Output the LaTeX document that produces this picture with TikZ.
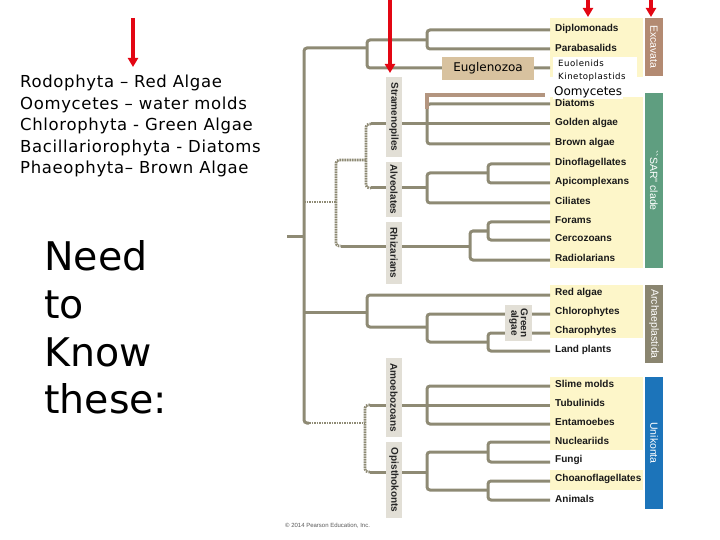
\documentclass[tikz,border=0pt]{standalone}
\usepackage{fontspec}
\setmainfont{DejaVu Sans}
\newfontfamily\lab{Liberation Sans}
\newfontfamily\leftfont[LetterSpace=4]{DejaVu Sans}
\newfontfamily\smallsp[LetterSpace=6]{DejaVu Sans}
\usetikzlibrary{arrows.meta}
\definecolor{treec}{HTML}{8E8A74}
\definecolor{boxc}{HTML}{E2DFD6}
\definecolor{yel}{HTML}{FDF6C9}
\definecolor{eug}{HTML}{D8C29F}
\definecolor{brn}{HTML}{B3957F}
\definecolor{exc}{HTML}{B38A72}
\definecolor{sar}{HTML}{5F9E80}
\definecolor{arc}{HTML}{8A8570}
\definecolor{uni}{HTML}{1C74BA}
\definecolor{arr}{HTML}{E30613}
\tikzset{
  tree/.style={draw=treec, line width=3pt, rounded corners=3pt},
  dotl/.style={draw=treec, line width=2.6pt, dash pattern=on 1.6pt off 0.9pt, rounded corners=3pt},
  grp/.style={fill=boxc, rotate=-90, inner sep=0pt, minimum height=16pt, font=\lab\bfseries\fontsize{10}{11}\selectfont, text=black!85},
  leaf/.style={anchor=west, inner sep=0pt, font=\lab\bfseries\fontsize{10}{11}\selectfont, text=black!90},
  bar/.style={rotate=-90, inner sep=0pt, minimum height=18pt, text=white, font=\lab\fontsize{10.5}{12}\selectfont},
  redarrow/.style={draw=arr, line width=3.5pt, -{Triangle[width=10pt,length=9pt]}},
  lefttxt/.style={anchor=base west, inner sep=0pt, font=\leftfont\fontsize{16.5}{20}\selectfont},
  bigtxt/.style={anchor=base west, inner sep=0pt, font=\fontsize{39.5}{44}\selectfont}
}
\begin{document}
\begin{tikzpicture}[x=1pt,y=-1pt]
\useasboundingbox (0,0) rectangle (720,540);
% yellow backgrounds
\fill[yel] (550,18) rectangle (643,77);
\fill[yel] (550,97) rectangle (643,268);
\fill[yel] (550,285) rectangle (643,338);
\fill[yel] (550,377) rectangle (643,450);
\fill[yel] (550,470) rectangle (643,490);
% tree
\draw[tree] (287,236) -- (304,236);
\draw[tree] (367,48) -- (304,48) -- (304,423) -- (309,423);
\draw[dotl] (309,423) -- (365,423);
% Excavata
\draw[tree] (550,30) -- (427,30) -- (427,49) -- (550,49);
\draw[tree] (427,40) -- (367,40) -- (367,68) -- (550,68);
% SAR
\draw[dotl] (304,202) -- (336,202);
\draw[dotl] (366,160) -- (336,160) -- (336,246) -- (341,246);
\draw[tree] (341,246) -- (470,246);
\draw[dotl] (371,124) -- (366,124) -- (366,188) -- (371,188);
\draw[tree] (371,124) -- (550,124);
\draw[tree] (550,104) -- (427,104) -- (427,144) -- (550,144);
\draw[brn, line width=4pt] (427,109) -- (427,95) -- (545,95);
\draw[tree] (371,188) -- (427,188);
\draw[tree] (488,173) -- (427,173) -- (427,203) -- (550,203);
\draw[tree] (550,164) -- (488,164) -- (488,183) -- (550,183);
\draw[tree] (488,231) -- (470,231) -- (470,260) -- (550,260);
\draw[tree] (550,222) -- (488,222) -- (488,240) -- (550,240);
% Archaeplastida
\draw[tree] (304,312) -- (367,312);
\draw[tree] (550,295) -- (367,295) -- (367,327) -- (427,327);
\draw[tree] (550,314) -- (427,314) -- (427,342) -- (488,342);
\draw[tree] (550,333) -- (488,333) -- (488,351) -- (550,351);
% Unikonta
\draw[dotl] (370,405) -- (365,405) -- (365,472) -- (370,472);
\draw[tree] (370,405) -- (550,405);
\draw[tree] (550,386) -- (427,386) -- (427,424) -- (550,424);
\draw[tree] (370,472) -- (427,472);
\draw[tree] (488,452) -- (427,452) -- (427,490) -- (488,490);
\draw[tree] (550,442) -- (488,442) -- (488,462) -- (550,462);
\draw[tree] (550,481) -- (488,481) -- (488,500) -- (550,500);
% group label boxes
\node[grp, minimum width=80pt] (stra) at (394,117) {Stramenopiles};
\node[grp, minimum width=55pt] (alve) at (394,189.5) {Alveolates};
\node[grp, minimum width=62pt] (rhiz) at (394,253) {Rhizarians};
\node[grp, minimum width=79pt] (amoe) at (394,397.5) {Amoebozoans};
\node[grp, minimum width=76pt] (opis) at (394,480) {Opisthokonts};
\node[grp, minimum width=36pt, minimum height=27pt, align=center, font=\lab\bfseries\fontsize{10}{9.5}\selectfont] (gral) at (518.5,323) {Green\\algae};
% Euglenozoa
\node[fill=eug, minimum width=92pt, minimum height=23pt, inner sep=0pt, font=\fontsize{12}{14}\selectfont] (eugl) at (488,68.5) {Euglenozoa};
% white inserted boxes
\fill[white] (553,57) rectangle (637,84);
\node[anchor=west, inner sep=0pt, font=\smallsp\fontsize{8.6}{10}\selectfont] (euol) at (558,63.5) {Euolenids};
\node[anchor=west, inner sep=0pt, font=\smallsp\fontsize{8.6}{10}\selectfont] (kine) at (558,77.5) {Kinetoplastids};
\node[anchor=west, fill=white, inner sep=1pt, font=\fontsize{12}{13}\selectfont] (oomy) at (553,92.5) {Oomycetes};
% leaf labels
\node[leaf] (l1) at (555,28.5) {Diplomonads};
\node[leaf] (l2) at (555,47.5) {Parabasalids};
\node[leaf] (l3) at (555,103) {Diatoms};
\node[leaf] (l4) at (555,122.5) {Golden algae};
\node[leaf] (l5) at (555,142.5) {Brown algae};
\node[leaf] (l6) at (555,162.5) {Dinoflagellates};
\node[leaf] (l7) at (555,181.5) {Apicomplexans};
\node[leaf] (l8) at (555,201) {Ciliates};
\node[leaf] (l9) at (555,220) {Forams};
\node[leaf] (l10) at (555,238.5) {Cercozoans};
\node[leaf] (l11) at (555,258) {Radiolarians};
\node[leaf] (l12) at (555,293) {Red algae};
\node[leaf] (l13) at (555,312) {Chlorophytes};
\node[leaf] (l14) at (555,331) {Charophytes};
\node[leaf] (l15) at (555,349.5) {Land plants};
\node[leaf] (l16) at (555,384) {Slime molds};
\node[leaf] (l17) at (555,402.5) {Tubulinids};
\node[leaf] (l18) at (555,421.5) {Entamoebes};
\node[leaf] (l19) at (555,440.5) {Nucleariids};
\node[leaf] (l20) at (555,460) {Fungi};
\node[leaf] (l21) at (555,479) {Choanoflagellates};
\node[leaf] (l22) at (555,498.5) {Animals};
% coloured bars
\node[bar, fill=exc, minimum width=58pt] (excb) at (654,47) {Excavata};
\node[bar, fill=sar, minimum width=175pt] (sarb) at (654,180.5) {``SAR'' clade};
\node[bar, fill=arc, minimum width=78pt] (arcb) at (654,324) {Archaeplastida};
\node[bar, fill=uni, minimum width=132pt] (unib) at (654,443) {Unikonta};
% copyright
\node[anchor=west, inner sep=0pt, text=black!65, font=\lab\fontsize{6}{7}\selectfont] (copy) at (285,526) {© 2014 Pearson Education, Inc.};
% left texts
\node[lefttxt] (t1) at (20,88) {Rodophyta – Red Algae};
\node[lefttxt] (t2) at (20,109.5) {Oomycetes – water molds};
\node[lefttxt] (t3) at (20,131) {Chlorophyta - Green Algae};
\node[lefttxt] (t4) at (20,152.5) {Bacillariorophyta - Diatoms};
\node[lefttxt] (t5) at (20,174) {Phaeophyta– Brown Algae};
\node[bigtxt] (n1) at (44,270) {Need};
\node[bigtxt] (n2) at (44,318) {to};
\node[bigtxt] (n3) at (44,366.5) {Know};
\node[bigtxt] (n4) at (44,413) {these:};
% red arrows
\coordinate (a1s) at (133,18); \coordinate (a1e) at (133,67);
\coordinate (a2s) at (390,0); \coordinate (a2e) at (390,73);
\coordinate (a3s) at (588,0); \coordinate (a3e) at (588,17);
\coordinate (a4s) at (651,0); \coordinate (a4e) at (651,17);
\draw[redarrow] (a1s) -- (a1e);
\draw[redarrow] (a2s) -- (a2e);
\draw[redarrow] (a3s) -- (a3e);
\draw[redarrow] (a4s) -- (a4e);
\end{tikzpicture}
\end{document}
